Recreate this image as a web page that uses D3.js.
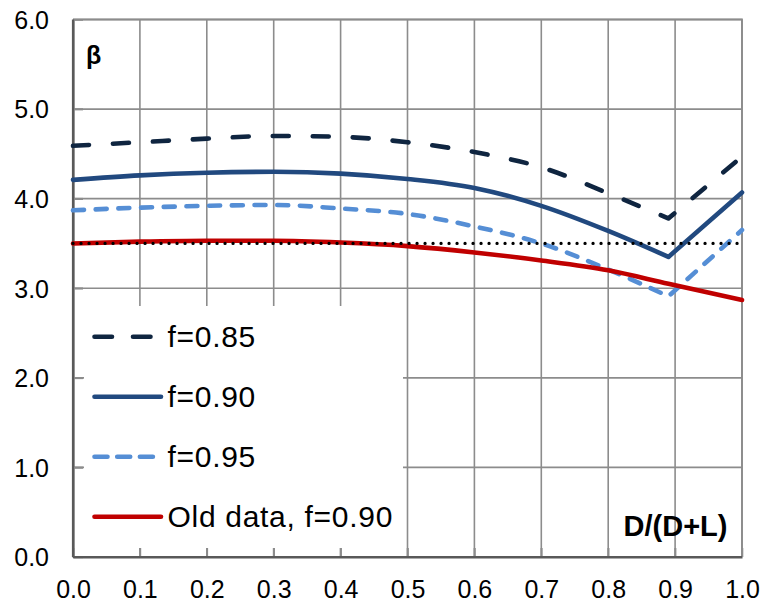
<!DOCTYPE html>
<html><head><meta charset="utf-8">
<script src="https://cdn.jsdelivr.net/npm/d3@7"></script>
<style>body{margin:0;background:#fff}svg{display:block;font-family:Arial,"Liberation Sans",sans-serif}</style>
</head><body>
<svg id="c" width="763" height="602"></svg>
<script>
const xValues = [0.0, 0.1, 0.2, 0.3, 0.4, 0.5, 0.6, 0.7, 0.8, 0.89, 1.0];
const f085 = [4.59, 4.63, 4.67, 4.70, 4.69, 4.63, 4.52, 4.35, 4.06, 3.78, 4.47];
const f090 = [4.21, 4.26, 4.29, 4.30, 4.28, 4.22, 4.12, 3.92, 3.64, 3.35, 4.07];
const f095 = [3.87, 3.90, 3.92, 3.93, 3.89, 3.83, 3.69, 3.50, 3.21, 2.91, 3.65];
const oldData = [3.50, 3.52, 3.53, 3.53, 3.51, 3.47, 3.40, 3.31, 3.20, 3.05, 2.87];
const target = [3.5, 3.5];
const targetX = [0.0, 1.0];
const xTicks = [0.0, 0.1, 0.2, 0.3, 0.4, 0.5, 0.6, 0.7, 0.8, 0.9, 1.0];
const yTicks = [0.0, 1.0, 2.0, 3.0, 4.0, 5.0, 6.0];
const seriesNames = ["f=0.85", "f=0.90", "f=0.95", "Old data, f=0.90"];

const svg = d3.select("#c");
const x = d3.scaleLinear().domain([0, 1]).range([73, 742]);
const y = d3.scaleLinear().domain([0, 6]).range([557, 19.5]);

const series = [
  {name: seriesNames[0], vals: f085, color: "#0F2540", dash: "16 24", legDash: "17.5 21"},
  {name: seriesNames[1], vals: f090, color: "#21497F", dash: null, legDash: null},
  {name: seriesNames[2], vals: f095, color: "#558ED5", dash: "11 11.7", legDash: "13 9.7"},
  {name: seriesNames[3], vals: oldData, color: "#C00000", dash: null, legDash: null}
];

// gridlines
const grid = svg.append("g");
grid.selectAll("line.v").data(xTicks.slice(1)).join("line")
  .attr("x1", d => x(d)).attr("x2", d => x(d)).attr("y1", y(6)).attr("y2", y(0))
  .attr("stroke", "#8C8C8C").attr("stroke-width", 1.6);
grid.selectAll("line.h").data(yTicks.slice(1)).join("line")
  .attr("x1", x(0)).attr("x2", x(1)).attr("y1", d => y(d)).attr("y2", d => y(d))
  .attr("stroke", "#8C8C8C").attr("stroke-width", 1.6);

// axes
const xAxis = d3.axisBottom(x).tickValues(xTicks).tickFormat(d3.format(".1f")).tickSizeInner(-9).tickSizeOuter(0).tickPadding(24);
const yAxis = d3.axisLeft(y).tickValues(yTicks).tickFormat(d3.format(".1f")).tickSizeInner(-10).tickSizeOuter(0).tickPadding(24);
const gx = svg.append("g").attr("transform", `translate(0,${y(0)})`).call(xAxis);
const gy = svg.append("g").attr("transform", `translate(${x(0)},0)`).call(yAxis);
[gx, gy].forEach(g => {
  g.select(".domain").attr("stroke", "#595959").attr("stroke-width", 2.2);
  g.selectAll(".tick line").attr("stroke", "#8C8C8C").attr("stroke-width", 1.6);
  g.selectAll("text").attr("font-size", 25).attr("fill", "#000").attr("font-family", "Arial, 'Liberation Sans', sans-serif");
});
gx.selectAll("text").attr("dy", null).attr("y", 41);
gy.selectAll("text").attr("x", -24).attr("dy", "0.35em");

// legend box (covers gridlines)
svg.append("rect").attr("x", 84).attr("y", 306).attr("width", 319).attr("height", 242).attr("fill", "#fff");

// redraw axis ticks over legend
svg.append("g").selectAll("line").data(xTicks.slice(1, -1)).join("line")
  .attr("x1", d => x(d)).attr("x2", d => x(d)).attr("y1", y(0) - 9).attr("y2", y(0))
  .attr("stroke", "#8C8C8C").attr("stroke-width", 1.6);
svg.append("g").selectAll("line").data(yTicks.slice(1, -1)).join("line")
  .attr("x1", x(0)).attr("x2", x(0) + 10).attr("y1", d => y(d)).attr("y2", d => y(d))
  .attr("stroke", "#8C8C8C").attr("stroke-width", 1.6);

// top/right border
svg.append("path").attr("d", `M${x(0)},${y(6)}H${x(1)}V${y(0)}`).attr("fill", "none").attr("stroke", "#8C8C8C").attr("stroke-width", 1.8);
// redraw axis lines
svg.append("line").attr("x1", x(0)).attr("x2", x(0)).attr("y1", y(6)).attr("y2", y(0)).attr("stroke", "#595959").attr("stroke-width", 2.2);
svg.append("line").attr("x1", x(0)).attr("x2", x(1)).attr("y1", y(0)).attr("y2", y(0)).attr("stroke", "#595959").attr("stroke-width", 2.2);

// series
series.forEach((s, k) => {
  const pts = s.vals.map((v, i) => [x(xValues[i]), y(v)]);
  let path;
  if (k < 3) {
    // smooth first part, sharp corner at the minimum
    const a = d3.line().curve(d3.curveMonotoneX)(pts.slice(0, 10));
    path = a + `L${pts[10][0]},${pts[10][1]}`;
  } else {
    path = d3.line().curve(d3.curveMonotoneX)(pts);
  }
  svg.append("path").attr("d", path).attr("fill", "none")
    .attr("stroke", s.color).attr("stroke-width", 4.6)
    .attr("stroke-linecap", "round").attr("stroke-linejoin", "round")
    .attr("stroke-dasharray", s.dash);
});

// target dotted line
svg.append("path")
  .attr("d", d3.line().x((d, i) => x(targetX[i])).y(d => y(d))(target))
  .attr("fill", "none").attr("stroke", "#000").attr("stroke-width", 3.2)
  .attr("stroke-linecap", "round").attr("stroke-dasharray", "0.1 7.9");

// legend
const leg = svg.append("g");
series.forEach((s, i) => {
  const ly = 336.7 + i * 60;
  leg.append("line").attr("x1", 94.5).attr("x2", s.legDash ? 153 : 161).attr("y1", ly).attr("y2", ly)
    .attr("stroke", s.color).attr("stroke-width", 4.6).attr("stroke-linecap", "round")
    .attr("stroke-dasharray", s.legDash);
  leg.append("text").attr("x", 167.5).attr("y", ly + 10).attr("font-size", 30)
    .attr("letter-spacing", "0.7px").attr("fill", "#000").text(s.name);
});

// axis titles
svg.append("text").attr("x", 86).attr("y", 64).attr("font-size", 25).attr("font-weight", "bold").text("β");
svg.append("text").attr("x", 727.5).attr("y", 536).attr("text-anchor", "end").attr("font-size", 29)
  .attr("font-weight", "bold").text("D/(D+L)");
</script>
</body></html>
